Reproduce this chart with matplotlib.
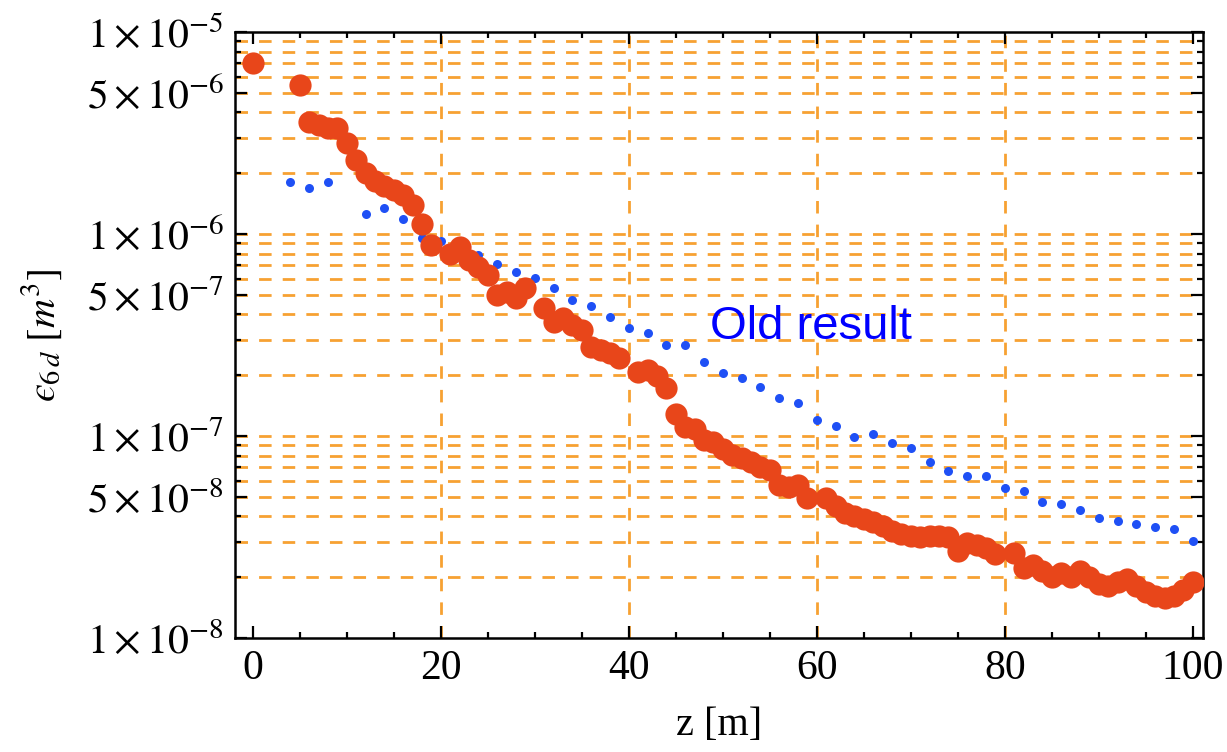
import matplotlib
matplotlib.use("Agg")
import matplotlib.pyplot as plt
from matplotlib.ticker import FixedLocator, NullFormatter

# ---------------- data ----------------
new_z = [0, 5, 6, 7, 8, 9, 10, 11, 12, 13, 14, 15, 16, 17, 18, 19,
         21, 22, 23, 24, 25, 26, 27, 28, 29, 31, 32, 33, 34, 35, 36, 37, 38, 39,
         41, 42, 43, 44, 45, 46, 47, 48, 49, 50, 51, 52, 53, 54, 55, 56, 57, 58, 59,
         61, 62, 63, 64, 65, 66, 67, 68, 69, 70, 71, 72, 73, 74, 75, 76, 77, 78, 79,
         81, 82, 83, 84, 85, 86, 87, 88, 89, 90, 91, 92, 93, 94, 95, 96, 97, 98, 99, 100]
new_eps = [7.05e-6, 5.47e-6, 3.6e-6, 3.45e-6, 3.35e-6, 3.35e-6, 2.81e-6, 2.32e-6, 2.0e-6,
           1.82e-6, 1.72e-6, 1.65e-6, 1.56e-6, 1.39e-6, 1.12e-6, 8.8e-7,
           8.0e-7, 8.65e-7, 7.4e-7, 6.9e-7, 6.27e-7, 5.0e-7, 5.18e-7, 4.8e-7, 5.38e-7,
           4.28e-7, 3.68e-7, 3.83e-7, 3.55e-7, 3.35e-7, 2.77e-7, 2.67e-7, 2.57e-7, 2.42e-7,
           2.08e-7, 2.12e-7, 1.97e-7, 1.72e-7, 1.29e-7, 1.11e-7, 1.08e-7, 9.6e-8, 9.37e-8,
           8.6e-8, 8.05e-8, 7.8e-8, 7.46e-8, 7.0e-8, 6.79e-8, 5.7e-8, 5.6e-8, 5.71e-8, 4.92e-8,
           4.92e-8, 4.5e-8, 4.14e-8, 4.0e-8, 3.9e-8, 3.75e-8, 3.6e-8, 3.4e-8, 3.29e-8, 3.2e-8,
           3.17e-8, 3.2e-8, 3.2e-8, 3.15e-8, 2.7e-8, 2.95e-8, 2.9e-8, 2.78e-8, 2.6e-8,
           2.63e-8, 2.21e-8, 2.3e-8, 2.15e-8, 2.01e-8, 2.1e-8, 2.01e-8, 2.15e-8, 2.0e-8,
           1.85e-8, 1.8e-8, 1.9e-8, 1.97e-8, 1.8e-8, 1.68e-8, 1.62e-8, 1.57e-8, 1.62e-8,
           1.73e-8, 1.9e-8]

old_z = [4, 6, 8, 12, 14, 16, 18, 20, 24, 26, 28, 30, 32, 34, 36, 38, 40, 42, 44, 46,
         48, 50, 52, 54, 56, 58, 60, 62, 64, 66, 68, 70, 72, 74, 76, 78, 80, 82, 84, 86,
         88, 90, 92, 94, 96, 98, 100]
old_eps = [1.8e-6, 1.68e-6, 1.8e-6, 1.26e-6, 1.35e-6, 1.18e-6, 9.5e-7, 9.2e-7,
           7.9e-7, 7.1e-7, 6.45e-7, 6.08e-7, 5.38e-7, 4.71e-7, 4.41e-7, 3.9e-7, 3.41e-7,
           3.22e-7, 2.82e-7, 2.82e-7, 2.33e-7, 2.06e-7, 1.93e-7, 1.75e-7, 1.54e-7, 1.45e-7,
           1.2e-7, 1.12e-7, 9.86e-8, 1.02e-7, 9.27e-8, 8.7e-8, 7.41e-8, 6.73e-8, 6.34e-8,
           6.34e-8, 5.55e-8, 5.36e-8, 4.73e-8, 4.61e-8, 4.3e-8, 3.92e-8, 3.8e-8, 3.67e-8,
           3.56e-8, 3.45e-8, 3.03e-8]

x_major = [0, 20, 40, 60, 80, 100]
x_grid = [20, 40, 60, 80]
y_major = [1e-8, 5e-8, 1e-7, 5e-7, 1e-6, 5e-6, 1e-5]
y_major_labels = [r"$1\times10^{-8}$", r"$5\times10^{-8}$", r"$1\times10^{-7}$",
                  r"$5\times10^{-7}$", r"$1\times10^{-6}$", r"$5\times10^{-6}$",
                  r"$1\times10^{-5}$"]
annotation = "Old result"

# ---------------- style ----------------
plt.rcParams['font.family'] = ['Liberation Serif', 'DejaVu Serif']
plt.rcParams['mathtext.fontset'] = 'stix'

GRID = '#f7a132'
RED = '#e8461a'
BLUE = '#1f50f5'

fig = plt.figure(figsize=(12.27, 7.52), dpi=100)
ax = fig.add_axes([0.1915, 0.1516, 0.789, 0.8059])
ax.set_yscale('log')
ax.set_xlim(-1.9, 101.1)
ax.set_ylim(1e-8, 1e-5)

# grid lines
y_grid = [m * 10.0 ** e for e in (-8, -7, -6) for m in range(1, 10)]
for yv in y_grid:
    if yv > 1e-8:
        ax.axhline(yv, color=GRID, lw=2.0, dashes=(4.5, 4), zorder=0)
for xv in x_grid:
    ax.axvline(xv, color=GRID, lw=2.0, dashes=(4.5, 4), zorder=0)

# data
ax.plot(old_z, old_eps, 'o', color=BLUE, ms=6.5, mec='none', zorder=2)
ax.plot(new_z, new_eps, 'o', color=RED, ms=16, mec='none', zorder=3)

ax.text(48.6, 3.47e-7, annotation, color='#0000ff', fontsize=34,
        family=['Liberation Sans', 'DejaVu Sans'], ha='left', va='center', zorder=4)

# ticks
ax.xaxis.set_major_locator(FixedLocator(x_major))
ax.xaxis.set_minor_locator(FixedLocator([v for v in range(0, 101, 5) if v % 20]))
ax.yaxis.set_major_locator(FixedLocator(y_major))
ax.set_yticklabels(y_major_labels)
ax.yaxis.set_minor_locator(FixedLocator([yv for yv in y_grid if yv not in y_major]))
ax.yaxis.set_minor_formatter(NullFormatter())
ax.tick_params(which='both', direction='in', top=True, right=True, width=1.6, colors='black')
ax.tick_params(which='major', length=8.5, labelsize=30, pad=8)
ax.tick_params(which='minor', length=4.5)
for sp in ax.spines.values():
    sp.set_linewidth(1.8)

ax.set_xlabel("z [m]", fontsize=29, labelpad=14)
ax.set_ylabel("$\u03f5_{6\\,d}\\ [m^3]$", fontsize=29, labelpad=16)

fig.savefig("out.png", dpi=100)
